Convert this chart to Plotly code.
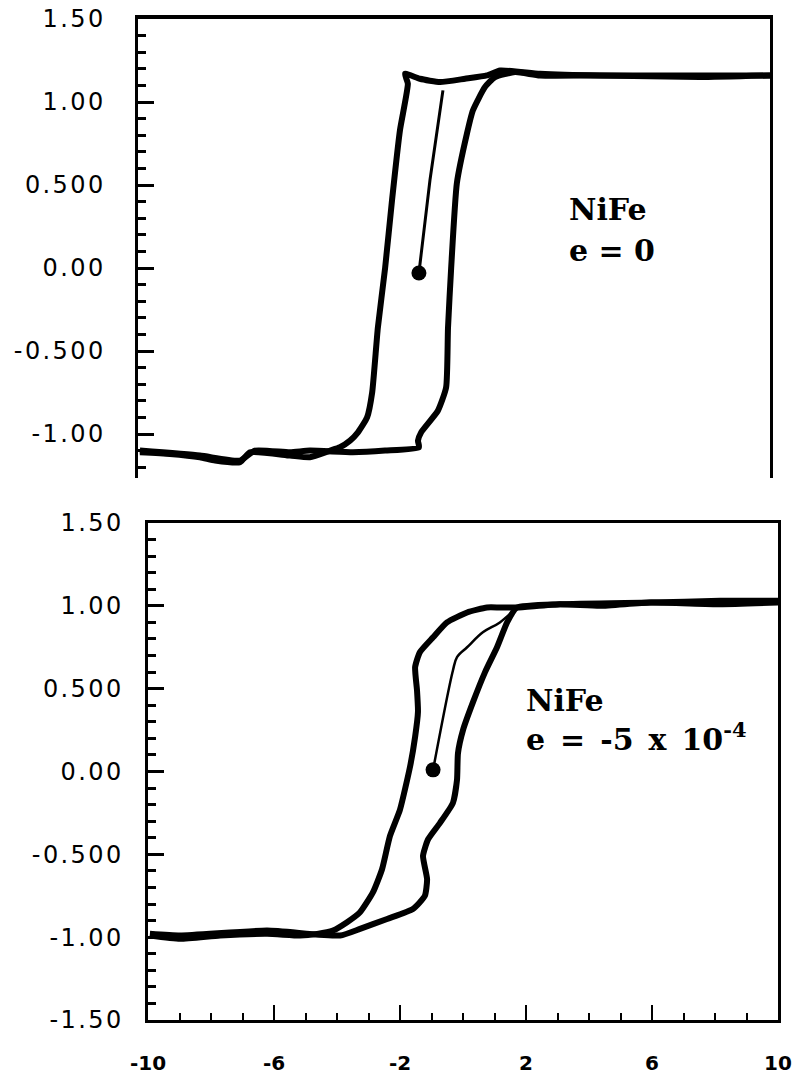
import plotly.graph_objects as go

# ---- NiFe, e = 0 (upper panel) ----
# descending branch: from positive saturation down to negative field
h0_desc = [10.0, 7.78, 4.62, 2.72, 1.46, 1.04, 0.35, -0.44, -1.08, -1.55,
           -1.46, -1.71, -1.96, -2.18, -2.41, -2.59, -2.75, -3.04, -3.29, -3.61,
           -3.92, -4.56, -5.19, -6.46, -6.77, -7.56, -8.04, -8.99, -9.94]
m0_desc = [1.16, 1.16, 1.16, 1.17, 1.19, 1.16, 1.14, 1.12, 1.14, 1.17,
           1.11, 0.83, 0.41, 0.0, -0.36, -0.75, -0.90, -0.99, -1.04, -1.08,
           -1.10, -1.14, -1.13, -1.11, -1.17, -1.16, -1.14, -1.12, -1.11]
# ascending branch: from negative saturation back up
h0_asc = [-9.94, -8.04, -6.77, -6.30, -5.19, -4.56, -3.20, -2.18, -1.11, -1.14,
          -1.04, -0.51, -0.25, -0.19, -0.09, 0.09, 0.41, 0.60, 0.98, 1.30,
          1.93, 2.72, 4.62, 7.78, 10.0]
m0_asc = [-1.10, -1.13, -1.16, -1.10, -1.11, -1.10, -1.11, -1.10, -1.08, -1.04,
          -0.99, -0.86, -0.72, -0.36, 0.0, 0.51, 0.81, 0.95, 1.09, 1.15,
          1.18, 1.16, 1.16, 1.15, 1.16]
# initial magnetization curve
h0_init = [-1.11, -0.76, -0.35]
m0_init = [-0.03, 0.53, 1.07]

# ---- NiFe, e = -5 x 10^-4 (lower panel) ----
h5_desc = [10.0, 8.16, 5.94, 4.35, 3.08, 1.71, 1.17, 0.76, 0.13, -0.51,
           -0.95, -1.37, -1.52, -1.46, -1.43, -1.52, -1.68, -2.0, -2.32, -2.57,
           -2.86, -3.27, -3.68, -4.13, -4.63, -5.17, -6.22, -7.71, -8.98, -9.94]
m5_desc = [1.02, 1.01, 1.02, 1.0, 1.01, 0.99, 0.99, 0.99, 0.96, 0.90,
           0.81, 0.72, 0.63, 0.49, 0.36, 0.21, 0.03, -0.23, -0.39, -0.59,
           -0.73, -0.85, -0.91, -0.96, -0.98, -0.99, -0.98, -0.99, -1.01, -0.99]
h5_asc = [-9.94, -8.98, -6.22, -3.90, -3.27, -2.41, -1.59, -1.21, -1.14, -1.27,
          -1.11, -0.73, -0.32, -0.19, -0.16, 0.0, 0.32, 0.70, 1.08, 1.40,
          1.71, 3.08, 5.94, 8.16, 10.0]
m5_asc = [-0.98, -0.99, -0.96, -0.99, -0.95, -0.89, -0.83, -0.75, -0.65, -0.51,
          -0.41, -0.31, -0.19, -0.05, 0.11, 0.25, 0.42, 0.60, 0.75, 0.90,
          0.99, 1.01, 1.02, 1.03, 1.03]
h5_init = [-0.95, -0.32, -0.19, 0.13, 0.63, 1.17, 1.71]
m5_init = [0.01, 0.61, 0.69, 0.75, 0.84, 0.90, 0.99]

# axis labels
y_top_vals = [1.5, 1.0, 0.5, 0.0, -0.5, -1.0]
y_top_text = ["1.50", "1.00", "0.500", "0.00", "-0.500", "-1.00"]
y_bot_vals = [1.5, 1.0, 0.5, 0.0, -0.5, -1.0, -1.5]
y_bot_text = ["1.50", "1.00", "0.500", "0.00", "-0.500", "-1.00", "-1.50"]
x_vals = [-10, -6, -2, 2, 6, 10]
x_text = ["-10", "-6", "-2", "2", "6", "10"]

HS = "\u200a"


def spaced(s):
    return HS.join(s)


fig = go.Figure()

line_kw = dict(color="black", shape="spline", smoothing=0.5)

fig.add_trace(go.Scatter(x=h0_desc, y=m0_desc, mode="lines",
                         line=dict(width=6, **line_kw), xaxis="x", yaxis="y"))
fig.add_trace(go.Scatter(x=h0_asc, y=m0_asc, mode="lines",
                         line=dict(width=6, **line_kw), xaxis="x", yaxis="y"))
fig.add_trace(go.Scatter(x=h0_init, y=m0_init, mode="lines",
                         line=dict(width=3, color="black"), xaxis="x", yaxis="y"))
fig.add_trace(go.Scatter(x=h0_init[:1], y=m0_init[:1], mode="markers",
                         marker=dict(size=15, color="black"), xaxis="x", yaxis="y"))

fig.add_trace(go.Scatter(x=h5_desc, y=m5_desc, mode="lines",
                         line=dict(width=6, **line_kw), xaxis="x2", yaxis="y2"))
fig.add_trace(go.Scatter(x=h5_asc, y=m5_asc, mode="lines",
                         line=dict(width=6, **line_kw), xaxis="x2", yaxis="y2"))
fig.add_trace(go.Scatter(x=h5_init, y=m5_init, mode="lines",
                         line=dict(width=2.5, color="black", shape="spline"),
                         xaxis="x2", yaxis="y2"))
fig.add_trace(go.Scatter(x=h5_init[:1], y=m5_init[:1], mode="markers",
                         marker=dict(size=15, color="black"), xaxis="x2", yaxis="y2"))

tick_font = dict(family="DejaVu Sans", size=24, color="black")
xtick_font = dict(family="DejaVu Sans", size=20, color="black", weight="bold")

fig.update_layout(
    width=800, height=1080,
    margin=dict(l=0, r=0, t=0, b=0, autoexpand=False),
    paper_bgcolor="white", plot_bgcolor="white",
    showlegend=False,
    xaxis=dict(domain=[138 / 800, 770 / 800], range=[-10, 10], anchor="y",
               side="top", showline=True, linewidth=4, linecolor="black",
               showgrid=False, zeroline=False, ticks="", showticklabels=False,
               automargin=False),
    yaxis=dict(domain=[1 - 478 / 1080, 1 - 19 / 1080], range=[-1.265, 1.5],
               anchor="x", showline=True, linewidth=3, linecolor="black",
               mirror=True, showgrid=False, zeroline=False, automargin=False,
               tickmode="array", tickvals=y_top_vals,
               ticktext=[spaced(t) for t in y_top_text],
               ticks="inside", ticklen=16, tickwidth=3, tickcolor="black",
               ticklabelstandoff=27, tickfont=tick_font,
               minor=dict(tickmode="linear", tick0=0, dtick=0.1, ticks="inside",
                          ticklen=8, tickwidth=3, tickcolor="black")),
    xaxis2=dict(domain=[148 / 800, 778 / 800], range=[-10, 10], anchor="y2",
                showline=True, linewidth=3, linecolor="black", mirror=True,
                showgrid=False, zeroline=False, automargin=False,
                tickmode="array", tickvals=x_vals, ticktext=x_text,
                ticks="inside", ticklen=15, tickwidth=2, tickcolor="black",
                ticklabelstandoff=23, tickfont=xtick_font,
                minor=dict(tickmode="linear", tick0=0, dtick=1, ticks="inside",
                           ticklen=7, tickwidth=2, tickcolor="black")),
    yaxis2=dict(domain=[1 - 1020 / 1080, 1 - 523 / 1080], range=[-1.5, 1.5],
                anchor="x2", showline=True, linewidth=3, linecolor="black",
                mirror=True, showgrid=False, zeroline=False, automargin=False,
                tickmode="array", tickvals=y_bot_vals,
                ticktext=[spaced(t) for t in y_bot_text],
                ticks="inside", ticklen=16, tickwidth=3, tickcolor="black",
                ticklabelstandoff=19, tickfont=tick_font,
                minor=dict(tickmode="linear", tick0=0, dtick=0.1, ticks="inside",
                           ticklen=8, tickwidth=3, tickcolor="black")),
)

label_font = dict(family="DejaVu Serif", size=30, color="black", weight="bold")
EN = "\u2002"
fig.add_annotation(text="NiFe", x=567 / 800, y=1 - 210 / 1080, xref="paper",
                   yref="paper", xanchor="left", yanchor="middle",
                   showarrow=False, font=label_font)
fig.add_annotation(text="e = 0", x=567 / 800, y=1 - 250 / 1080, xref="paper",
                   yref="paper", xanchor="left", yanchor="middle",
                   showarrow=False, font=label_font)
fig.add_annotation(text="NiFe", x=524 / 800, y=1 - 700 / 1080, xref="paper",
                   yref="paper", xanchor="left", yanchor="middle",
                   showarrow=False, font=label_font)
fig.add_annotation(text=f"e{EN}={EN}-5{EN}x{EN}10<sup>-4</sup>",
                   x=524 / 800, y=1 - 737 / 1080,
                   xref="paper", yref="paper", xanchor="left", yanchor="middle",
                   showarrow=False, font=label_font)

fig.write_html("out.html")
